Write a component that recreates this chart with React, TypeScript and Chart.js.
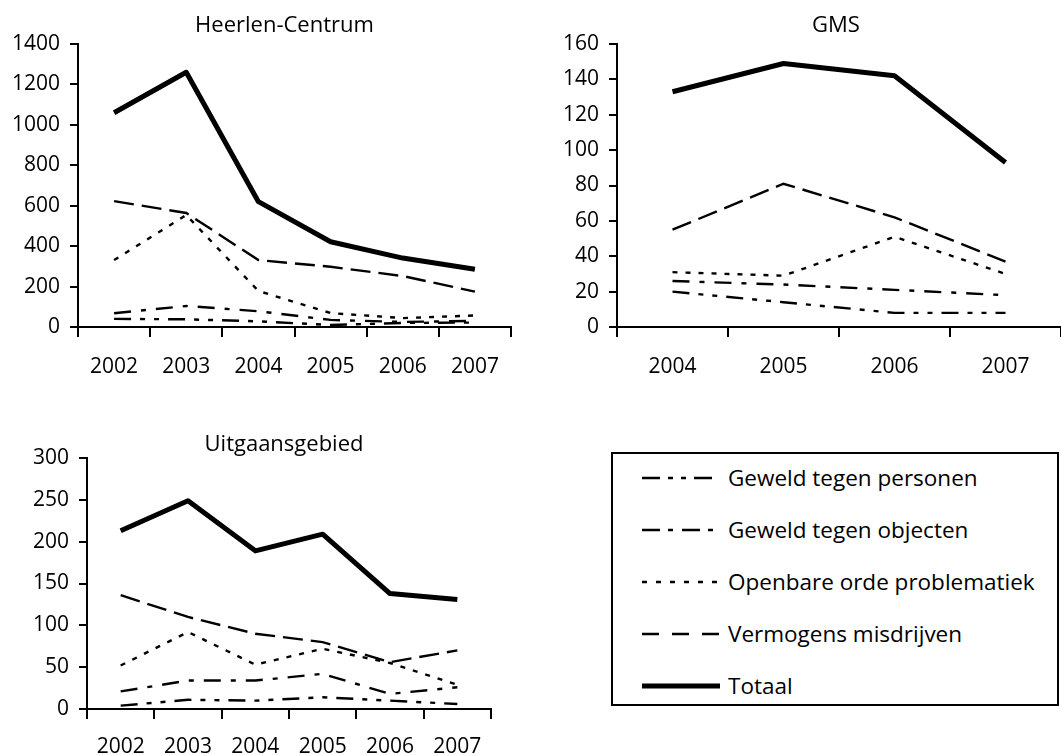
import React, { useEffect, useRef } from "react";
import { Chart, registerables } from "chart.js";

Chart.register(...registerables);

const FONT = "'Open Sans', 'DejaVu Sans', sans-serif";

// Heerlen-Centrum, 2002-2007
const yearsCentrum = ["2002", "2003", "2004", "2005", "2006", "2007"];
const centrumPersonen = [40, 38, 28, 10, 20, 22];
const centrumObjecten = [68, 104, 78, 35, 25, 30];
const centrumOpenbareOrde = [331, 554, 178, 69, 44, 57];
const centrumVermogens = [623, 564, 331, 298, 252, 175];
const centrumTotaal = [1060, 1260, 620, 422, 341, 286];

// GMS, 2004-2007
const yearsGms = ["2004", "2005", "2006", "2007"];
const gmsPersonen = [20, 14, 8, 8];
const gmsObjecten = [26, 24, 21, 18];
const gmsOpenbareOrde = [31, 29, 51, 30];
const gmsVermogens = [55, 81, 62, 37];
const gmsTotaal = [133, 149, 142, 93];

// Uitgaansgebied, 2002-2007
const yearsUitgaan = ["2002", "2003", "2004", "2005", "2006", "2007"];
const uitgaanPersonen = [4, 11, 10, 14, 10, 6];
const uitgaanObjecten = [21, 34, 34, 42, 18, 26];
const uitgaanOpenbareOrde = [52, 92, 53, 72, 55, 29];
const uitgaanVermogens = [136, 110, 90, 80, 56, 70];
const uitgaanTotaal = [213, 249, 189, 209, 138, 131];

const seriesNames = [
  "Geweld tegen personen",
  "Geweld tegen objecten",
  "Openbare orde problematiek",
  "Vermogens misdrijven",
  "Totaal",
];

// line style per series (same order as seriesNames)
const lineStyles = [
  { dash: [17, 9, 5, 9, 5, 9], width: 2.4 },
  { dash: [17, 10, 5, 10], width: 2.4 },
  { dash: [5, 8], width: 2.4 },
  { dash: [20, 8], width: 2.4 },
  { dash: [] as number[], width: 5 },
];

const legendDashes = [
  [18, 8, 5, 8, 5, 8],
  [18, 8, 5, 9],
  [5, 9],
  [17, 13],
  [] as number[],
];

const panelTitle = {
  id: "panelTitle",
  afterDraw(chart: any, _args: any, opts: any) {
    const { ctx, chartArea } = chart;
    ctx.save();
    ctx.font = `22px ${FONT}`;
    ctx.fillStyle = "#000";
    ctx.textAlign = "center";
    ctx.textBaseline = "middle";
    ctx.fillText(
      opts.text,
      (chartArea.left + chartArea.right) / 2 + opts.dx,
      chartArea.top - opts.dy
    );
    ctx.restore();
  },
};

type PanelProps = {
  left: number;
  top: number;
  width: number;
  height: number;
  title: string;
  titleDx: number;
  titleDy: number;
  labels: string[];
  series: number[][];
  max: number;
  step: number;
  yWidth: number;
  xHeight: number;
  xPad: number;
  padTop: number;
  padRight: number;
};

function Panel(p: PanelProps) {
  const ref = useRef<HTMLCanvasElement>(null);
  useEffect(() => {
    if (!ref.current) return;
    const chart = new Chart(ref.current, {
      type: "line",
      data: {
        labels: p.labels,
        datasets: p.series.map((values, i) => ({
          label: seriesNames[i],
          data: values,
          borderColor: "#000",
          backgroundColor: "#000",
          borderWidth: lineStyles[i].width,
          borderDash: lineStyles[i].dash,
          borderCapStyle: "butt",
          borderJoinStyle: i === 4 ? "round" : "miter",
          pointRadius: 0,
          pointHoverRadius: 0,
          tension: 0,
          fill: false,
        })),
      },
      options: {
        responsive: false,
        animation: false,
        events: [],
        layout: {
          padding: { top: p.padTop, right: p.padRight, left: 0, bottom: 0 },
        },
        plugins: {
          legend: { display: false },
          tooltip: { enabled: false },
          title: { display: false },
          panelTitle: { text: p.title, dx: p.titleDx, dy: p.titleDy },
        } as any,
        scales: {
          x: {
            type: "category",
            offset: true,
            grid: {
              display: true,
              offset: true,
              drawOnChartArea: false,
              drawTicks: true,
              tickLength: 10,
              color: "#000",
              lineWidth: 2,
            },
            border: { display: true, color: "#000", width: 2 },
            ticks: {
              color: "#000",
              font: { family: FONT, size: 21 },
              padding: p.xPad,
              maxRotation: 0,
              autoSkip: false,
            },
            afterFit: (s: any) => {
              s.height = p.xHeight;
            },
          },
          y: {
            min: 0,
            max: p.max,
            grid: {
              display: true,
              drawOnChartArea: false,
              drawTicks: true,
              tickLength: 8,
              color: "#000",
              lineWidth: 2,
            },
            border: { display: true, color: "#000", width: 2 },
            ticks: {
              stepSize: p.step,
              color: "#000",
              font: { family: FONT, size: 21 },
              padding: 10,
              callback: (v: any) => String(v),
            },
            afterFit: (s: any) => {
              s.width = p.yWidth;
            },
          },
        },
      },
      plugins: [panelTitle],
    });
    return () => chart.destroy();
  }, []);
  return (
    <canvas
      ref={ref}
      width={p.width}
      height={p.height}
      style={{
        position: "absolute",
        left: p.left,
        top: p.top,
        width: p.width,
        height: p.height,
      }}
    />
  );
}

function LegendBox() {
  return (
    <div
      style={{
        position: "absolute",
        left: 611,
        top: 452,
        width: 448,
        height: 254,
        border: "2px solid #000",
        boxSizing: "border-box",
        background: "#fff",
      }}
    >
      {seriesNames.map((name, i) => (
        <div
          key={name}
          style={{
            position: "absolute",
            left: 0,
            top: 10 + i * 52,
            height: 28,
            display: "flex",
            alignItems: "center",
          }}
        >
          <svg width={112} height={28} style={{ display: "block", flex: "none" }}>
            <line
              x1={29}
              y1={14}
              x2={i === 2 ? 111 : 107}
              y2={14}
              stroke="#000"
              strokeWidth={i === 4 ? 5 : 2.5}
              strokeDasharray={legendDashes[i].length ? legendDashes[i].join(" ") : undefined}
            />
          </svg>
          <span
            style={{
              fontFamily: FONT,
              fontSize: 22.5,
              lineHeight: "28px",
              color: "#000",
              whiteSpace: "nowrap",
              marginLeft: 3,
            }}
          >
            {name}
          </span>
        </div>
      ))}
    </div>
  );
}

export default function App() {
  return (
    <div
      style={{
        position: "fixed",
        left: 0,
        top: 0,
        width: 1061,
        height: 755,
        overflow: "hidden",
        background: "#fff",
      }}
    >
      <Panel
        left={0}
        top={0}
        width={530}
        height={380}
        title="Heerlen-Centrum"
        titleDx={-10}
        titleDy={18}
        labels={yearsCentrum}
        series={[centrumPersonen, centrumObjecten, centrumOpenbareOrde, centrumVermogens, centrumTotaal]}
        max={1400}
        step={200}
        yWidth={78}
        xHeight={53}
        xPad={17}
        padTop={44}
        padRight={19}
      />
      <Panel
        left={530}
        top={0}
        width={540}
        height={380}
        title="GMS"
        titleDx={-3}
        titleDy={18}
        labels={yearsGms}
        series={[gmsPersonen, gmsObjecten, gmsOpenbareOrde, gmsVermogens, gmsTotaal]}
        max={160}
        step={20}
        yWidth={87}
        xHeight={53}
        xPad={17}
        padTop={44}
        padRight={9}
      />
      <Panel
        left={0}
        top={380}
        width={530}
        height={375}
        title="Uitgaansgebied"
        titleDx={-5}
        titleDy={13}
        labels={yearsUitgaan}
        series={[uitgaanPersonen, uitgaanObjecten, uitgaanOpenbareOrde, uitgaanVermogens, uitgaanTotaal]}
        max={300}
        step={50}
        yWidth={87}
        xHeight={46}
        xPad={15}
        padTop={78}
        padRight={39}
      />
      <LegendBox />
    </div>
  );
}
